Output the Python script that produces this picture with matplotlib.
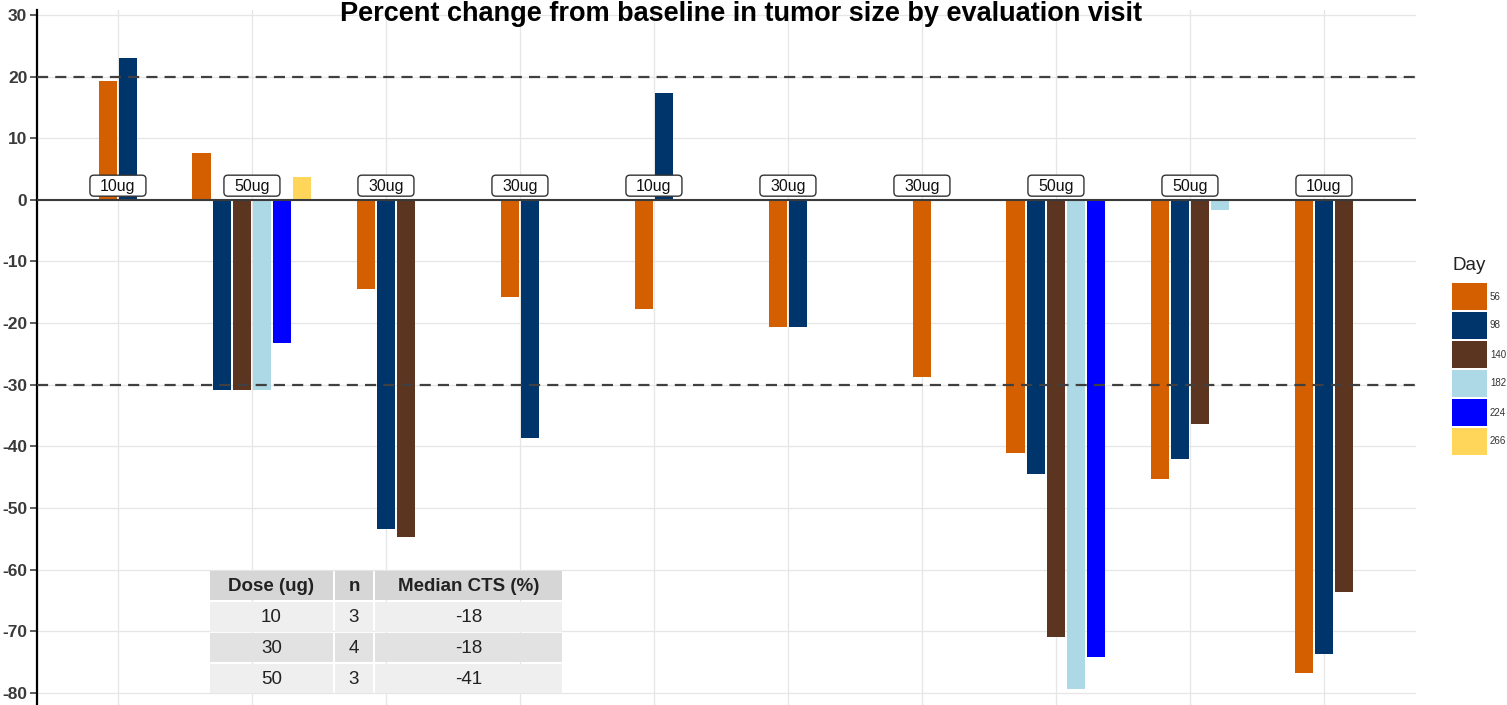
import numpy as np
import matplotlib
matplotlib.use("Agg")
import matplotlib.pyplot as plt
from matplotlib.patches import Rectangle, FancyBboxPatch

nan = np.nan

# ---------------- data ----------------
doses = ['10ug', '50ug', '30ug', '30ug', '10ug', '30ug', '30ug', '50ug', '50ug', '10ug']
day_labels = ['56', '98', '140', '182', '224', '266']
day_colors = ['#D45F00', '#00356B', '#5B3520', '#ADD8E6', '#0000FF', '#FFD65A']

day1 = [19.3, 7.6, -14.4, -15.7, -17.7, -20.6, -28.7, -41.1, -45.3, -76.8]
day2 = [23.0, -30.8, -53.4, -38.6, 17.4, -20.6, nan, -44.5, -42.0, -73.7]
day3 = [nan, -30.8, -54.7, nan, nan, nan, nan, -70.9, -36.4, -63.6]
day4 = [nan, -30.8, nan, nan, nan, nan, nan, -79.4, -1.6, nan]
day5 = [nan, -23.2, nan, nan, nan, nan, nan, -74.2, nan, nan]
day6 = [nan, 3.7, nan, nan, nan, nan, nan, nan, nan, nan]
series = [day1, day2, day3, day4, day5, day6]

ref_lines = [20, -30]
label_y = 2.3

tab_header = ['Dose (ug)', 'n', 'Median CTS (%)']
tab_dose = ['10', '30', '50']
tab_n = ['3', '4', '3']
tab_median = ['-18', '-18', '-41']

title = 'Percent change from baseline in tumor size by evaluation visit'

# ---------------- figure ----------------
W, H = 1507, 705
fig = plt.figure(figsize=(W / 100, H / 100), dpi=100)
fig.patch.set_facecolor('white')

FONT = ['Liberation Sans', 'DejaVu Sans']

# panel in pixel coordinates
px_left, px_right, px_top, px_bottom = 37, 1416, 10, 705
ax = fig.add_axes([px_left / W, 1 - px_bottom / H,
                   (px_right - px_left) / W, (px_bottom - px_top) / H])
ax.set_xlim(0.396, 10.687)
ax.set_ylim(-81.98, 30.81)

slot = 0.15
barw = 0.138
x_groups = np.arange(1, len(doses) + 1)
for gi, xg in enumerate(x_groups):
    present = [k for k in range(len(series)) if not np.isnan(series[k][gi])]
    n = len(present)
    for j, k in enumerate(present):
        xc = xg + (j - (n - 1) / 2) * slot
        ax.bar(xc, series[k][gi], width=barw, color=day_colors[k], zorder=3,
               linewidth=0)

ax.axhline(0, color='#3a3a3a', lw=1.5, zorder=4)
for v in ref_lines:
    ax.axhline(v, color='#404040', lw=1.6, ls=(0, (5, 3.2)), zorder=4)

ax.set_xticks(x_groups)
ax.set_xticklabels([])
ax.tick_params(axis='x', length=0)
yt = np.arange(-80, 31, 10)
ax.set_yticks(yt)
ax.set_yticklabels([str(v) for v in yt])
ax.tick_params(axis='y', length=5, width=1.1, color='#333333', pad=2,
               labelsize=12.5, labelcolor='#3a3a3a')
for lab in ax.get_yticklabels():
    lab.set_family(FONT)
    lab.set_fontweight('bold')
ax.grid(True, color='#E6E6E6', lw=0.9, zorder=0)
ax.set_axisbelow(True)
for s in ['top', 'right', 'bottom']:
    ax.spines[s].set_visible(False)
ax.spines['left'].set_color('black')
ax.spines['left'].set_linewidth(1.6)
ax.set_facecolor('white')

# overlay in pixel coordinates for labels, table, legend, title
ov = fig.add_axes([0, 0, 1, 1], zorder=10)
ov.set_xlim(0, W)
ov.set_ylim(H, 0)
ov.axis('off')
ov.patch.set_alpha(0)

# dose labels (boxed), positioned from the data axes transform
fig.canvas.draw()
for gi, xg in enumerate(x_groups):
    dx, dy = ax.transData.transform((xg, label_y))
    cx, cy = dx, H - dy
    bw, bh = 56, 21
    ov.add_patch(FancyBboxPatch((cx - bw / 2, cy - bh / 2), bw, bh,
                                boxstyle='round,pad=0,rounding_size=4',
                                fc='white', ec='#333333', lw=1.0, zorder=6))
    ov.text(cx, cy + 1, doses[gi], ha='center', va='center', fontsize=11.5,
            family=FONT, color='#111111', zorder=7)

# title
ov.text(741, 1, title, ha='center', va='top', fontsize=19.5,
        fontweight='bold', family=FONT, color='black')

# table
col_x = [(210, 333), (335, 373), (375, 562)]
row_y = [(571, 600), (602, 632), (633, 662), (664, 693)]
row_fc = ['#D6D6D6', '#EFEFEF', '#E2E2E2', '#EFEFEF']
cols = [tab_dose, tab_n, tab_median]
for r, (y0, y1) in enumerate(row_y):
    for c, (x0, x1) in enumerate(col_x):
        ov.add_patch(Rectangle((x0, y0), x1 - x0, y1 - y0, fc=row_fc[r], ec='none'))
        if r == 0:
            txt, fw = tab_header[c], 'bold'
        else:
            txt, fw = cols[c][r - 1], 'normal'
        ov.text((x0 + x1) / 2, (y0 + y1) / 2 + 1, txt, ha='center', va='center',
                fontsize=13.5, fontweight=fw, family=FONT, color='#222222')

# legend
ov.text(1452, 265, 'Day', ha='left', va='center', fontsize=13.5, family=FONT,
        color='#222222')
key_y0 = 283
for i, (lab, col) in enumerate(zip(day_labels, day_colors)):
    y0 = key_y0 + i * 29
    ov.add_patch(Rectangle((1452, y0), 35, 27, fc=col, ec='none'))
    ov.text(1490, y0 + 13.5, lab, ha='left', va='center', fontsize=7,
            family=FONT, color='#333333')

fig.savefig('out.png', dpi=100)
